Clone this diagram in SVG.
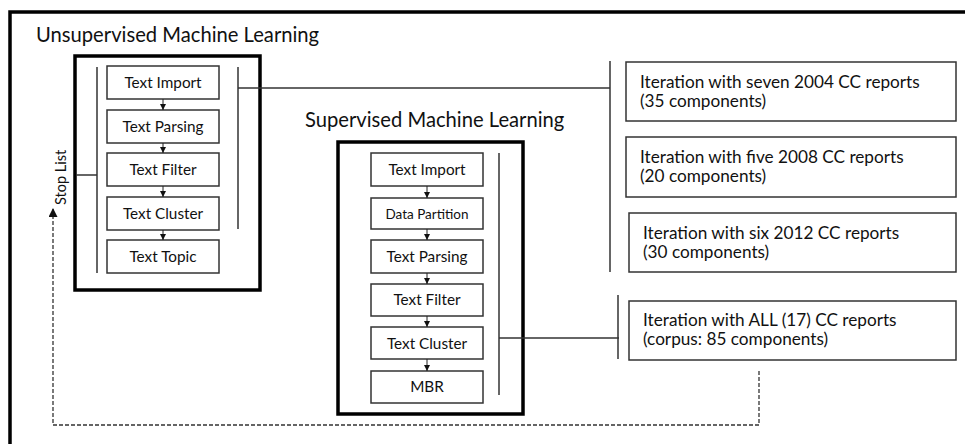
<svg xmlns="http://www.w3.org/2000/svg" width="965" height="444" viewBox="0 0 965 444">
<defs>
<style>
text{font-family:Lato,"Open Sans","Liberation Sans",sans-serif;fill:#111}
.title{font-size:20.2px}
.step{font-size:15.3px;text-anchor:middle}
.small{font-size:13.5px;text-anchor:middle}
.it{font-size:17.2px}
.box{fill:#fff;stroke:#333;stroke-width:1.5}
.frame{fill:none;stroke:#000;stroke-width:3.5}
.ln{fill:none;stroke:#333;stroke-width:1.5}
.arr{fill:none;stroke:#222;stroke-width:1}
.dash{fill:none;stroke:#333;stroke-width:1.3;stroke-dasharray:4 2}
</style>
<marker id="ah" viewBox="0 0 10 10" refX="10" refY="5" markerWidth="6" markerHeight="6" markerUnits="userSpaceOnUse" orient="auto"><path d="M0,0 L10,5 L0,10 Z" fill="#111"/></marker>
<marker id="ahb" viewBox="0 0 10 10" refX="10" refY="5" markerWidth="10" markerHeight="9" markerUnits="userSpaceOnUse" orient="auto"><path d="M0,0 L10,5 L0,10 Z" fill="#111"/></marker>
</defs>
<rect width="965" height="444" fill="#fff"/>
<path d="M10,444 V12 H965" fill="none" stroke="#000" stroke-width="3.5"/>

<g id="unsupervised">
<text class="title" x="36" y="42">Unsupervised Machine Learning</text>
<rect class="frame" x="75" y="56" width="185" height="234"/>
<g id="u-import"><rect class="box" x="107" y="66" width="112" height="33"/><text class="step" x="163" y="88">Text Import</text></g>
<g id="u-parsing"><rect class="box" x="107" y="110" width="112" height="33"/><text class="step" x="163" y="132">Text Parsing</text></g>
<g id="u-filter"><rect class="box" x="107" y="153" width="112" height="33"/><text class="step" x="163" y="175">Text Filter</text></g>
<g id="u-cluster"><rect class="box" x="107" y="197" width="112" height="33"/><text class="step" x="163" y="219">Text Cluster</text></g>
<g id="u-topic"><rect class="box" x="107" y="240" width="112" height="33"/><text class="step" x="163" y="262">Text Topic</text></g>
</g>

<g id="supervised">
<text class="title" x="305" y="127">Supervised Machine Learning</text>
<rect class="frame" x="338" y="142" width="185" height="272"/>
<g id="s-import"><rect class="box" x="371" y="153" width="112" height="33"/><text class="step" x="427" y="175">Text Import</text></g>
<g id="s-partition"><rect class="box" x="371" y="198" width="112" height="31"/><text class="small" x="427" y="219">Data Partition</text></g>
<g id="s-parsing"><rect class="box" x="371" y="240" width="112" height="33"/><text class="step" x="427" y="262">Text Parsing</text></g>
<g id="s-filter"><rect class="box" x="371" y="284" width="112" height="32"/><text class="step" x="427" y="305">Text Filter</text></g>
<g id="s-cluster"><rect class="box" x="371" y="327" width="112" height="32"/><text class="step" x="427" y="349">Text Cluster</text></g>
<g id="s-mbr"><rect class="box" x="371" y="371" width="112" height="32"/><text class="step" x="427" y="392">MBR</text></g>
</g>

<g id="it2004"><rect class="box" x="626" y="62" width="330" height="59"/><text class="it" x="640" y="88">Iteration with seven 2004 CC reports</text><text class="it" x="640" y="107">(35 components)</text></g>
<g id="it2008"><rect class="box" x="626" y="137" width="330" height="60"/><text class="it" x="640" y="163">Iteration with five 2008 CC reports</text><text class="it" x="640" y="182">(20 components)</text></g>
<g id="it2012"><rect class="box" x="629" y="213" width="327" height="59"/><text class="it" x="643" y="239">Iteration with six 2012 CC reports</text><text class="it" x="643" y="258">(30 components)</text></g>
<g id="itall"><rect class="box" x="629" y="301" width="327" height="59"/><text class="it" x="643" y="326">Iteration with ALL (17) CC reports</text><text class="it" x="643" y="345">(corpus: 85 components)</text></g>

<g id="stoplist"><text x="66" y="205" transform="rotate(-90 66 205)" style="font-size:14.5px">Stop List</text></g>

<g id="connectors">
<path class="arr" d="M163,99 V110" marker-end="url(#ah)"/>
<path class="arr" d="M163,143 V153" marker-end="url(#ah)"/>
<path class="arr" d="M163,186 V197" marker-end="url(#ah)"/>
<path class="arr" d="M163,230 V240" marker-end="url(#ah)"/>
<path class="arr" d="M427,186 V198" marker-end="url(#ah)"/>
<path class="arr" d="M427,229 V240" marker-end="url(#ah)"/>
<path class="arr" d="M427,273 V284" marker-end="url(#ah)"/>
<path class="arr" d="M427,316 V327" marker-end="url(#ah)"/>
<path class="arr" d="M427,359 V371" marker-end="url(#ah)"/>
<path class="ln" d="M97,67 V273"/>
<path class="ln" d="M238,67 V229"/>
<path class="ln" d="M76,175 H97"/>
<path class="ln" d="M238,88 H610"/>
<path class="ln" d="M610,61 V272"/>
<path class="ln" d="M499,153 V395"/>
<path class="ln" d="M499,338 H619"/>
<path class="ln" d="M618,295 V359"/>
<path class="dash" d="M759,371 V425 H53 V208" marker-end="url(#ahb)"/>
</g>
</svg>
